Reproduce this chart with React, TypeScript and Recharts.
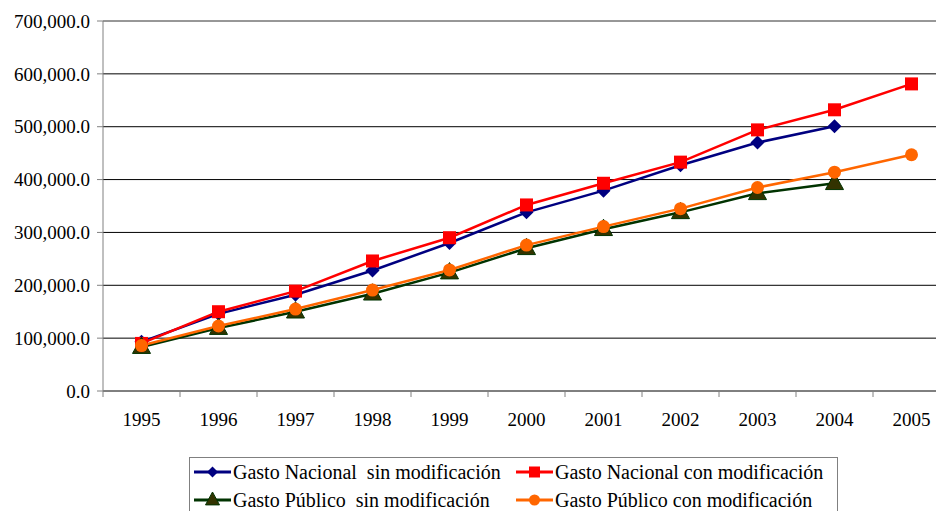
import React from 'react';
import { LineChart, Line, XAxis, YAxis, CartesianGrid, ReferenceLine } from 'recharts';

// Gasto nacional / público, 1995-2005
const years = [1995, 1996, 1997, 1998, 1999, 2000, 2001, 2002, 2003, 2004, 2005];
const gastoNacionalSin = [93000, 146000, 182000, 228000, 280000, 338000, 379000, 427000, 470000, 501000, null];
const gastoNacionalCon = [90000, 150000, 189000, 246000, 290000, 352000, 393000, 433000, 494000, 532000, 581000];
const gastoPublicoSin = [83000, 119000, 150000, 184000, 224000, 270000, 306000, 338000, 374000, 393000, null];
const gastoPublicoCon = [86000, 123000, 155000, 191000, 229000, 276000, 311000, 345000, 385000, 414000, 447000];
const yTicks = [0, 100000, 200000, 300000, 400000, 500000, 600000, 700000];

const FONT = 'Liberation Serif';
const FS = 19;

const data = years.map((year, i) => ({
  year,
  gns: gastoNacionalSin[i],
  gnc: gastoNacionalCon[i],
  gps: gastoPublicoSin[i],
  gpc: gastoPublicoCon[i],
}));

// ticks at the years (labels) and half way between them (tick marks)
const xTicks: number[] = [];
years.forEach((y) => xTicks.push(y - 0.5, y));
xTicks.push(years[years.length - 1] + 0.5);

const Diamond = ({ cx, cy, size = 7 }: any) =>
  cx == null || cy == null ? null : (
    <polygon
      points={`${cx},${cy - size} ${cx + size},${cy} ${cx},${cy + size} ${cx - size},${cy}`}
      fill="#000080"
    />
  );
const Square = ({ cx, cy, size = 6.5 }: any) =>
  cx == null || cy == null ? null : (
    <rect x={cx - size} y={cy - size} width={size * 2} height={size * 2} fill="#FF0000" />
  );
const Triangle = ({ cx, cy, size = 9 }: any) =>
  cx == null || cy == null ? null : (
    <polygon
      points={`${cx},${cy - size - 1} ${cx + size},${cy + size * 0.7} ${cx - size},${cy + size * 0.7}`}
      fill="#333300"
      stroke="#003300"
      strokeWidth={1}
    />
  );
const Dot = ({ cx, cy, size = 6.5 }: any) =>
  cx == null || cy == null ? null : <circle cx={cx} cy={cy} r={size} fill="#FF6600" />;

const series = [
  { key: 'gns', name: 'Gasto Nacional  sin modificación', color: '#000080', Marker: Diamond },
  { key: 'gnc', name: 'Gasto Nacional con modificación', color: '#FF0000', Marker: Square },
  { key: 'gps', name: 'Gasto Público  sin modificación', color: '#003300', Marker: Triangle },
  { key: 'gpc', name: 'Gasto Público con modificación', color: '#FF6600', Marker: Dot },
];

const YearTick = ({ x, y, payload }: any) => {
  const v = payload.value;
  if (!Number.isInteger(v)) {
    return <line x1={x} x2={x} y1={y} y2={y + 6} stroke="#808080" strokeWidth={1} />;
  }
  return (
    <text x={x} y={y + 35} textAnchor="middle" style={{ fontSize: FS, fontFamily: FONT }} fill="#000">
      {v}
    </text>
  );
};

const fmt = (v: number) => v.toLocaleString('en-US', { minimumFractionDigits: 1, maximumFractionDigits: 1 });

const LegendItem = ({ s }: any) => (
  <div style={{ display: 'flex', alignItems: 'center', whiteSpace: 'pre', height: 22 }}>
    <svg width={37} height={20} style={{ marginRight: 2, flex: 'none' }}>
      <line x1={0} x2={37} y1={10} y2={10} stroke={s.color} strokeWidth={3} />
      <s.Marker cx={18.5} cy={10} size={s.key === 'gps' ? 7 : 5.5} />
    </svg>
    <span style={{ lineHeight: '22px', fontFamily: FONT }}>{s.name}</span>
  </div>
);

export default function App() {
  return (
    <div
      style={{
        position: 'absolute',
        left: 0,
        top: 0,
        width: 936,
        height: 511,
        overflow: 'hidden',
        background: '#fff',
        fontFamily: FONT,
      }}
    >
      <LineChart width={960} height={511} data={data} margin={{ top: 21, right: 10, left: 0, bottom: 80 }}>
        <CartesianGrid vertical={false} stroke="#000" strokeWidth={1} />
        <ReferenceLine y={700000} stroke="#b0b0b0" />
        <XAxis
          type="number"
          dataKey="year"
          domain={[years[0] - 0.5, years[years.length - 1] + 0.5]}
          ticks={xTicks}
          interval={0}
          tickSize={0}
          tickMargin={0}
          tickLine={false}
          tick={<YearTick />}
          stroke="#808080"
          height={40}
        />
        <YAxis
          width={103}
          domain={[0, 700000]}
          ticks={yTicks}
          tickFormatter={fmt}
          tickSize={6}
          tickMargin={7}
          stroke="#808080"
          tick={{ fill: '#000', fontSize: FS, fontFamily: FONT }}
        />
        {series.map((s) => (
          <Line
            key={s.key}
            dataKey={s.key}
            name={s.name}
            stroke={s.color}
            strokeWidth={2.5}
            dot={(p: any) => <s.Marker key={`${s.key}-${p.index}`} cx={p.cx} cy={p.cy} />}
            activeDot={false}
            isAnimationActive={false}
          />
        ))}
      </LineChart>
      <div
        style={{
          position: 'absolute',
          left: 189,
          top: 457,
          width: 649,
          height: 70,
          border: '1px solid #808080',
          boxSizing: 'border-box',
          fontFamily: FONT,
          fontSize: 20,
          color: '#000',
          display: 'grid',
          gridTemplateColumns: '322px 322px',
          gridTemplateRows: '22px 22px',
          rowGap: 6,
          padding: '3px 0 0 4px',
        }}
      >
        {series.map((s) => (
          <LegendItem key={s.key} s={s} />
        ))}
      </div>
    </div>
  );
}
